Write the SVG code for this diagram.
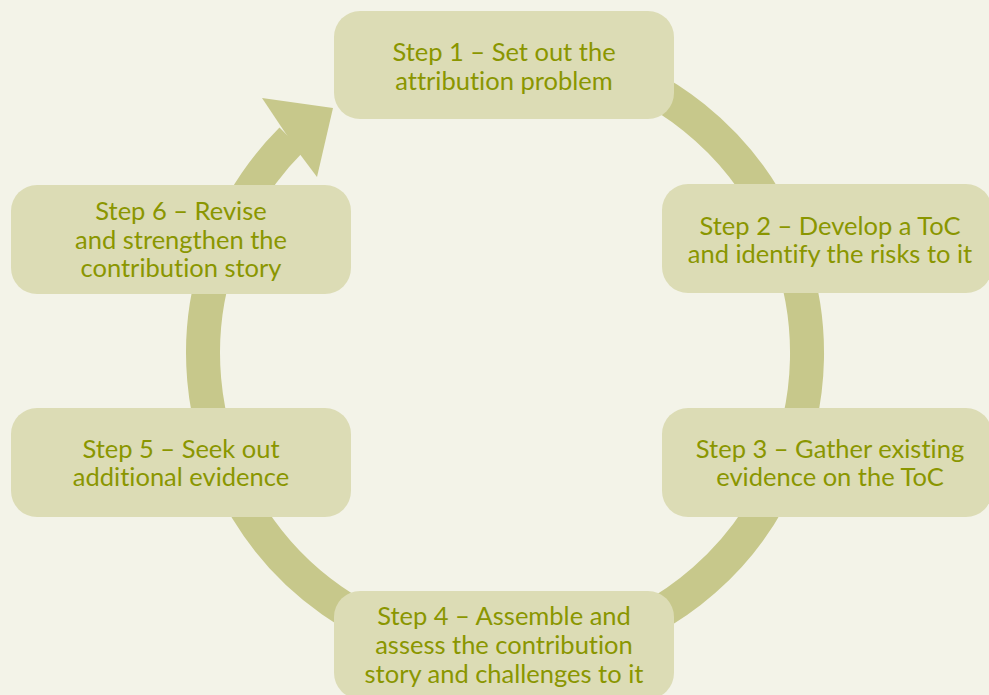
<svg xmlns="http://www.w3.org/2000/svg" width="989" height="695" viewBox="0 0 989 695">
<style>
.bg{fill:#f3f3e8}
.ring{fill:none;stroke:#c7c88b;stroke-width:34}
.head{fill:#c7c88b}
.box{fill:#dcdcb5}
.t{font-family:Lato,"Open Sans",sans-serif;font-size:25.5px;fill:#8a9600;text-anchor:middle;font-variant-ligatures:none}
</style>
<rect class="bg" x="0" y="0" width="989" height="695"/>
<g id="connectors">
<path class="ring" d="M 291.5 139.5 A 302 302 0 1 0 583 61.3"/>
<polygon class="head" points="262,98 333,108 317,177 299,153 280,125"/>
</g>
<g id="step1">
<rect class="box" x="334" y="11" width="340" height="108" rx="26"/>
<text class="t" x="504" y="61">Step 1 – Set out the</text>
<text class="t" x="504" y="90">attribution problem</text>
</g>
<g id="step2">
<rect class="box" x="662" y="184" width="330" height="109" rx="26"/>
<text class="t" x="830" y="235">Step 2 – Develop a ToC</text>
<text class="t" x="830" y="263">and identify the risks to it</text>
</g>
<g id="step3">
<rect class="box" x="662" y="408" width="330" height="109" rx="26"/>
<text class="t" x="830" y="458">Step 3 – Gather existing</text>
<text class="t" x="830" y="486">evidence on the ToC</text>
</g>
<g id="step4">
<rect class="box" x="334" y="591" width="340" height="108" rx="26"/>
<text class="t" x="504" y="625">Step 4 – Assemble and</text>
<text class="t" x="504" y="654">assess the contribution</text>
<text class="t" x="504" y="683">story and challenges to it</text>
</g>
<g id="step5">
<rect class="box" x="11" y="408" width="340" height="109" rx="26"/>
<text class="t" x="181" y="458">Step 5 – Seek out</text>
<text class="t" x="181" y="486">additional evidence</text>
</g>
<g id="step6">
<rect class="box" x="11" y="185" width="340" height="109" rx="26"/>
<text class="t" x="181" y="220">Step 6 – Revise</text>
<text class="t" x="181" y="249">and strengthen the</text>
<text class="t" x="181" y="277">contribution story</text>
</g>
</svg>
